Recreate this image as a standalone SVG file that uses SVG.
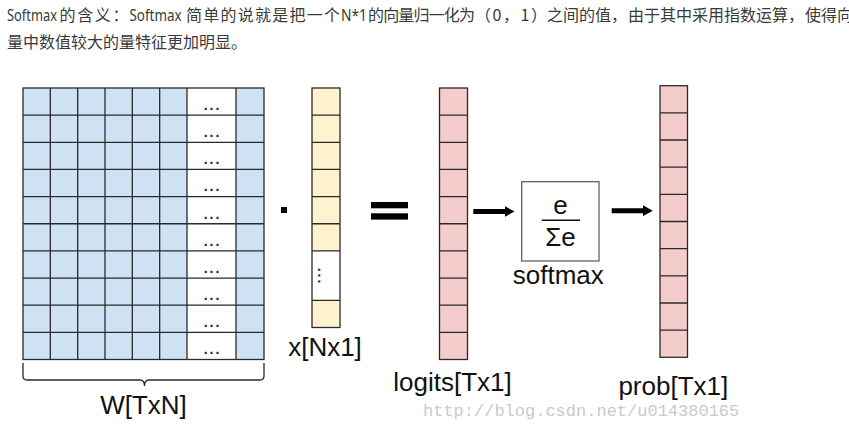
<svg xmlns="http://www.w3.org/2000/svg" width="849" height="431" viewBox="0 0 849 431">
<defs>
<style>
.hdr{fill:#3a3a3a;font-size:16px;font-family:"Noto Sans CJK SC","Liberation Sans",sans-serif}
.lat{font-family:"Noto Sans","Liberation Sans",sans-serif;font-size:15.5px}
.lbl{font-family:"Liberation Sans",Arial,sans-serif;font-size:26px;fill:#111;text-anchor:middle}
.grid{fill:none;stroke:#2a2a2a;stroke-width:1.3}
.blue{fill:#cfe2f3}
.yel{fill:#fff2cc}
.pink{fill:#f4cccc}
.dots{font-family:"Liberation Sans",Arial,sans-serif;font-size:14px;font-weight:bold;fill:#222;text-anchor:middle;letter-spacing:2px}
.conn{stroke:#000;stroke-width:5;fill:none}
.wm{font-family:"Liberation Mono","Courier New",monospace;font-size:17px;fill:#cacaca}
</style>
<marker id="ah" markerUnits="userSpaceOnUse" markerWidth="10" markerHeight="11" viewBox="0 0 10 11" refX="0.5" refY="5.5" orient="auto">
<path d="M0,0L10,5.5L0,11z" fill="#000"/>
</marker>
</defs>
<rect width="849" height="431" fill="#fff"/>

<g id="header" class="hdr">
<text y="21"><tspan class="lat" x="7" textLength="50" lengthAdjust="spacingAndGlyphs">Softmax</tspan><tspan x="59.5" textLength="69" lengthAdjust="spacing">的含义：</tspan><tspan class="lat" x="129.5" textLength="52" lengthAdjust="spacingAndGlyphs">Softmax</tspan><tspan x="186" textLength="154" lengthAdjust="spacing">简单的说就是把一个</tspan><tspan class="lat" x="341" textLength="26" lengthAdjust="spacingAndGlyphs">N*1</tspan><tspan x="368" textLength="107" lengthAdjust="spacing">的向量归一化为</tspan><tspan x="475" textLength="72" lengthAdjust="spacing">（0，1）</tspan><tspan x="547" textLength="80" lengthAdjust="spacing">之间的值，</tspan><tspan x="628" textLength="176" lengthAdjust="spacing">由于其中采用指数运算，</tspan><tspan x="805">使得向</tspan></text>
<text x="7" y="47.5" textLength="240" lengthAdjust="spacing">量中数值较大的量特征更加明显。</text>
</g>

<g id="W">
<rect class="blue" x="23" y="88" width="241" height="271.5"/>
<rect x="187" y="88" width="49" height="271.5" fill="#fff"/>
<path class="grid" d="M50.33,88V359.5M77.67,88V359.5M105,88V359.5M132.33,88V359.5M159.67,88V359.5M187,88V359.5M236,88V359.5
M23,115.15H264M23,142.3H264M23,169.45H264M23,196.6H264M23,223.75H264M23,250.9H264M23,278.05H264M23,305.2H264M23,332.35H264"/>
<rect class="grid" x="23" y="88" width="241" height="271.5"/>
<text class="dots" x="212.5" y="110">...</text>
<text class="dots" x="212.5" y="137.15">...</text>
<text class="dots" x="212.5" y="164.3">...</text>
<text class="dots" x="212.5" y="191.45">...</text>
<text class="dots" x="212.5" y="218.6">...</text>
<text class="dots" x="212.5" y="245.75">...</text>
<text class="dots" x="212.5" y="272.9">...</text>
<text class="dots" x="212.5" y="300.05">...</text>
<text class="dots" x="212.5" y="327.2">...</text>
<text class="dots" x="212.5" y="354.35">...</text>
<path class="grid" d="M23,363V376Q23,380 27,380H140Q144.5,380 144.5,386Q144.5,380 149,380H260Q264,380 264,376V363"/>
<text class="lbl" x="143.5" y="414">W[TxN]</text>
</g>

<g id="dot-op">
<rect x="281" y="207" width="6" height="6" fill="#000"/>
</g>

<g id="x">
<rect class="yel" x="312" y="88" width="28" height="239.5"/>
<rect x="312" y="250.9" width="28" height="49.4" fill="#fff"/>
<path class="grid" d="M312,115.15H340M312,142.3H340M312,169.45H340M312,196.6H340M312,223.75H340M312,250.9H340M312,300.3H340"/>
<rect class="grid" x="312" y="88" width="28" height="239.5"/>
<text class="dots" x="0" y="0" transform="translate(318,276.5) rotate(90)">...</text>
<text class="lbl" x="325" y="356">x[Nx1]</text>
</g>

<g id="equals">
<rect x="371" y="202" width="37" height="6.3" fill="#000"/>
<rect x="371" y="213.3" width="37" height="6.3" fill="#000"/>
</g>

<g id="logits">
<rect class="pink" x="439.5" y="88" width="28" height="271.5"/>
<path class="grid" d="M439.5,115.15H467.5M439.5,142.3H467.5M439.5,169.45H467.5M439.5,196.6H467.5M439.5,223.75H467.5M439.5,250.9H467.5M439.5,278.05H467.5M439.5,305.2H467.5M439.5,332.35H467.5"/>
<rect class="grid" x="439.5" y="88" width="28" height="271.5"/>
<text class="lbl" x="452.5" y="391">logits[Tx1]</text>
</g>

<g id="softmax">
<rect x="521.7" y="181.7" width="77.3" height="79.3" fill="#fff" stroke="#555" stroke-width="1.2"/>
<text class="lbl" x="560.5" y="214">e</text>
<line x1="541.7" y1="220.3" x2="580" y2="220.3" stroke="#111" stroke-width="1.5"/>
<text class="lbl" x="560.5" y="245.5">Σe</text>
<text class="lbl" x="558.3" y="284">softmax</text>
</g>

<g id="prob">
<rect class="pink" x="660" y="85.7" width="27.5" height="271.6"/>
<path class="grid" d="M660,112.86H687.5M660,140.02H687.5M660,167.18H687.5M660,194.34H687.5M660,221.5H687.5M660,248.66H687.5M660,275.82H687.5M660,302.98H687.5M660,330.14H687.5"/>
<rect class="grid" x="660" y="85.7" width="27.5" height="271.6"/>
<text class="lbl" x="673.3" y="395">prob[Tx1]</text>
</g>

<g id="connectors">
<line class="conn" x1="473.3" y1="211.5" x2="505" y2="211.5" marker-end="url(#ah)"/>
<line class="conn" x1="611.7" y1="210.7" x2="643.3" y2="210.7" marker-end="url(#ah)"/>
</g>

<text class="wm" x="423" y="416">http://blog.csdn.net/u014380165</text>
</svg>
